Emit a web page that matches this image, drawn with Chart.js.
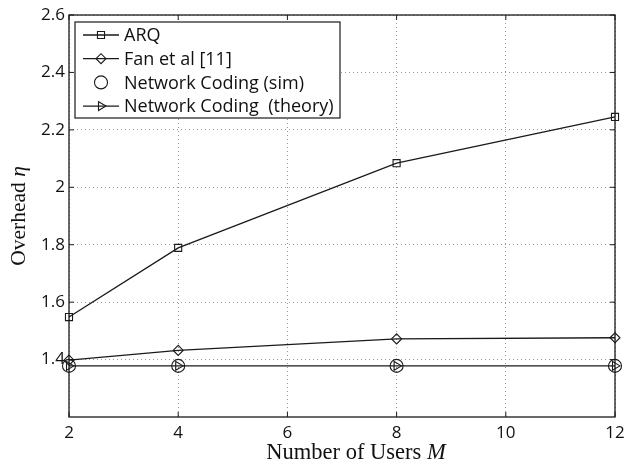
<!DOCTYPE html>
<html>
<head>
<meta charset="utf-8">
<script src="https://cdn.jsdelivr.net/npm/chart.js@4"></script>
<style>
  html, body { margin: 0; padding: 0; background: #fff; }
  #wrap { width: 625px; height: 474px; }
</style>
</head>
<body>
<div id="wrap"><canvas id="overheadChart"></canvas></div>
<script>
// Data
const users = [2, 4, 8, 12];
const arq = [1.548, 1.789, 2.084, 2.245];
const fan = [1.398, 1.432, 1.472, 1.476];
const ncSim = [1.378, 1.378, 1.378, 1.378];
const ncTheory = [1.378, 1.378, 1.378, 1.378];
const xTicks = [2, 4, 6, 8, 10, 12];
const yTicks = [1.4, 1.6, 1.8, 2, 2.2, 2.4, 2.6];
const seriesLabels = ['ARQ', 'Fan et al [11]', 'Network Coding (sim)', 'Network Coding  (theory)'];

const ink = '#1a1a1a';
const tickFont = { family: 'Open Sans', size: 17 };
const toXY = ys => users.map((x, i) => ({ x: x, y: ys[i] }));

function series(label, ys, style, radius, extra) {
    return Object.assign({
        label: label,
        data: toXY(ys),
        borderColor: ink,
        borderWidth: 1.3,
        backgroundColor: 'rgba(0,0,0,0)',
        pointStyle: style,
        pointRadius: radius,
        pointBorderWidth: 1.1,
        pointBorderColor: ink,
        pointBackgroundColor: 'rgba(0,0,0,0)',
        tension: 0,
        clip: false
    }, extra || {});
}

// box, inner ticks, legend and axis titles (MATLAB look)
const matlabFrame = {
    id: 'matlabFrame',
    afterDatasetsDraw(chart) {
        const ctx = chart.ctx;
        const a = chart.chartArea;
        const xs = chart.scales.x, ys = chart.scales.y;
        ctx.save();
        ctx.strokeStyle = ink;
        ctx.lineWidth = 1.3;
        ctx.strokeRect(a.left, a.top, a.right - a.left, a.bottom - a.top);
        ctx.lineWidth = 1;
        ctx.beginPath();
        xTicks.forEach(v => {
            const px = xs.getPixelForValue(v);
            ctx.moveTo(px, a.bottom); ctx.lineTo(px, a.bottom - 5);
            ctx.moveTo(px, a.top); ctx.lineTo(px, a.top + 5);
        });
        yTicks.forEach(v => {
            const py = ys.getPixelForValue(v);
            ctx.moveTo(a.left, py); ctx.lineTo(a.left + 5, py);
            ctx.moveTo(a.right, py); ctx.lineTo(a.right - 5, py);
        });
        ctx.stroke();

        // legend
        const bx = a.left + 6, by = a.top + 7, bw = 265, bh = 96;
        ctx.fillStyle = '#fff';
        ctx.fillRect(bx, by, bw, bh);
        ctx.strokeStyle = ink;
        ctx.lineWidth = 1.2;
        ctx.strokeRect(bx, by, bw, bh);
        chart.data.datasets.forEach((ds, i) => {
            const rowY = by + 13 + i * 23.7;
            if (ds.showLine !== false) {
                ctx.beginPath();
                ctx.lineWidth = 1.3;
                ctx.moveTo(bx + 8, rowY);
                ctx.lineTo(bx + 44, rowY);
                ctx.stroke();
            }
            ctx.fillStyle = 'rgba(0,0,0,0)';
            ctx.lineWidth = 1.1;
            Chart.helpers.drawPoint(ctx, {
                pointStyle: ds.pointStyle,
                rotation: ds.rotation || 0,
                radius: ds.pointRadius,
                borderWidth: 1.1
            }, bx + 26, rowY);
            ctx.fillStyle = '#111';
            ctx.font = '18px "Open Sans"';
            ctx.textAlign = 'left';
            ctx.textBaseline = 'middle';
            ctx.fillText(ds.label, bx + 49, rowY + 1);
        });

        // axis titles with italic symbols
        const drawMixed = (parts, cx, cy) => {
            let total = 0;
            parts.forEach(p => { ctx.font = p[1]; total += ctx.measureText(p[0]).width; });
            let x = cx - total / 2;
            ctx.textAlign = 'left';
            ctx.textBaseline = 'middle';
            parts.forEach(p => {
                ctx.font = p[1];
                ctx.fillText(p[0], x, cy);
                x += ctx.measureText(p[0]).width;
            });
        };
        ctx.fillStyle = '#111';
        drawMixed([['Number of Users ', '22.5px "Liberation Serif"'], ['M', 'italic 22.5px "Liberation Serif"']],
            (a.left + a.right) / 2 + 14, 453);
        ctx.translate(19, (a.top + a.bottom) / 2);
        ctx.rotate(-Math.PI / 2);
        drawMixed([['Overhead ', '21.5px "Liberation Serif"'], ['η', 'italic 21.5px "Liberation Serif"']], 0, 0);
        ctx.restore();
    }
};

const ctx = document.getElementById('overheadChart').getContext('2d');
const overheadChart = new Chart(ctx, {
    type: 'line',
    data: {
        datasets: [
            series(seriesLabels[0], arq, 'rect', 5),
            series(seriesLabels[1], fan, 'rectRot', 5),
            series(seriesLabels[2], ncSim, 'circle', 6.5, { showLine: false }),
            series(seriesLabels[3], ncTheory, 'triangle', 5, { rotation: 90 })
        ]
    },
    options: {
        responsive: true,
        maintainAspectRatio: false,
        animation: false,
        layout: { padding: { top: 15, right: 10, left: 0, bottom: 0 } },
        plugins: {
            legend: { display: false },
            tooltip: { enabled: false }
        },
        scales: {
            x: {
                type: 'linear',
                min: 2,
                max: 12,
                afterBuildTicks: s => { s.ticks = xTicks.map(v => ({ value: v })); },
                afterFit: s => { s.height = 57; s.paddingRight = 0; s.paddingLeft = 0; },
                grid: { color: '#9a9a9a', lineWidth: 1, drawTicks: false },
                border: { display: false, dash: [1, 3] },
                ticks: { font: tickFont, color: '#111', padding: 6 }
            },
            y: {
                type: 'linear',
                min: 1.2,
                max: 2.6,
                afterBuildTicks: s => { s.ticks = yTicks.map(v => ({ value: v })); },
                afterFit: s => { s.width = 69; s.paddingTop = 0; s.paddingBottom = 0; },
                grid: { color: '#9a9a9a', lineWidth: 1, drawTicks: false },
                border: { display: false, dash: [1, 3] },
                ticks: {
                    font: tickFont,
                    color: '#111',
                    padding: 4,
                    callback: v => String(+v.toFixed(1))
                }
            }
        }
    },
    plugins: [matlabFrame]
});
</script>
</body>
</html>
